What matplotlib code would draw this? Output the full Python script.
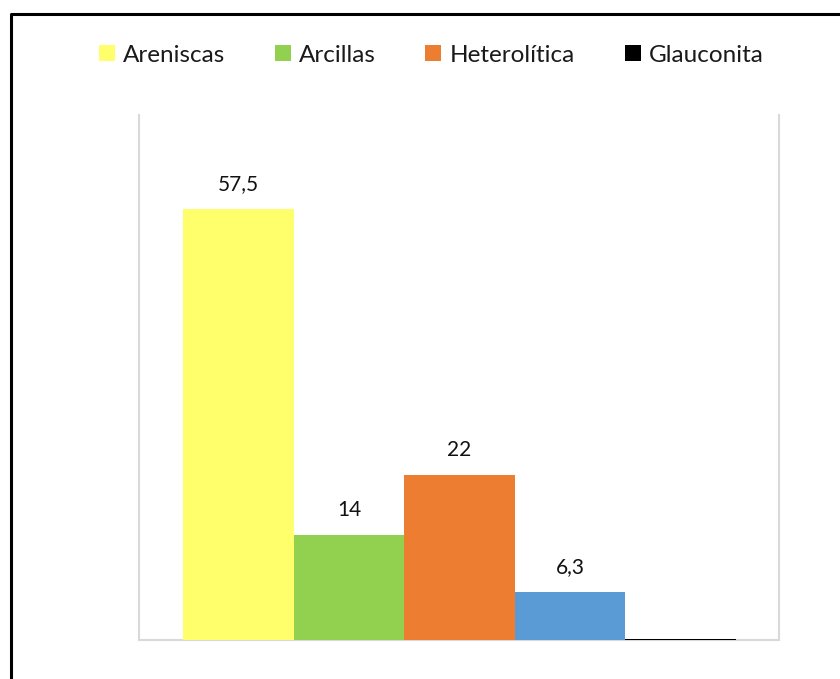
import matplotlib
matplotlib.use("Agg")
import matplotlib.pyplot as plt
from matplotlib.patches import Patch
from matplotlib.lines import Line2D

plt.rcParams['font.family'] = ['Lato', 'DejaVu Sans']

series = ["Areniscas", "Arcillas", "Heterolítica", "", "Glauconita"]
values = [57.5, 14, 22, 6.3, 0.12]
labels = ["57,5", "14", "22", "6,3", ""]
colors = ["#FFFF6B", "#92D050", "#ED7D31", "#5B9BD5", "#000000"]
legend_series = ["Areniscas", "Arcillas", "Heterolítica", "Glauconita"]
legend_colors = ["#FFFF6B", "#92D050", "#ED7D31", "#000000"]

W, H = 840, 679
fig = plt.figure(figsize=(W / 100, H / 100), dpi=100)
ax = fig.add_axes([139 / W, 1 - 639.5 / H, (779 - 139) / W, (639.5 - 115) / H])

x = list(range(len(values)))
bars = ax.bar(x, values, width=1.0, color=colors, edgecolor="none", zorder=3)
for b, lab in zip(bars, labels):
    if lab:
        ax.annotate(lab, (b.get_x() + b.get_width() / 2, b.get_height()),
                    xytext=(0, 18), textcoords="offset points",
                    ha="center", va="center", fontsize=15, color="#111111")

ax.set_xlim(-0.9, 4.89)
ax.set_ylim(0, 70)
ax.set_xticks([])
ax.set_yticks([])
ax.spines["top"].set_visible(False)
for s in ["left", "right", "bottom"]:
    ax.spines[s].set_color("#D9D9D9")
    ax.spines[s].set_linewidth(1.5)

handles = [Patch(facecolor=c, edgecolor="none") for c in legend_colors]
leg = fig.legend(handles, legend_series, loc="center", bbox_to_anchor=(431 / W, 1 - 55 / H),
                 ncol=4, frameon=False, fontsize=17.5, handlelength=0.66, handleheight=0.66,
                 handletextpad=0.33, columnspacing=2.05)
for t in leg.get_texts():
    t.set_color("#1a1a1a")

# outer frame (left and top edges visible)
fig.add_artist(Line2D([11 / W, 11 / W, 1.0], [0.0, 1 - 14 / H, 1 - 14 / H],
                      transform=fig.transFigure, color="black", linewidth=2.2))

fig.savefig("out.png", dpi=100)
